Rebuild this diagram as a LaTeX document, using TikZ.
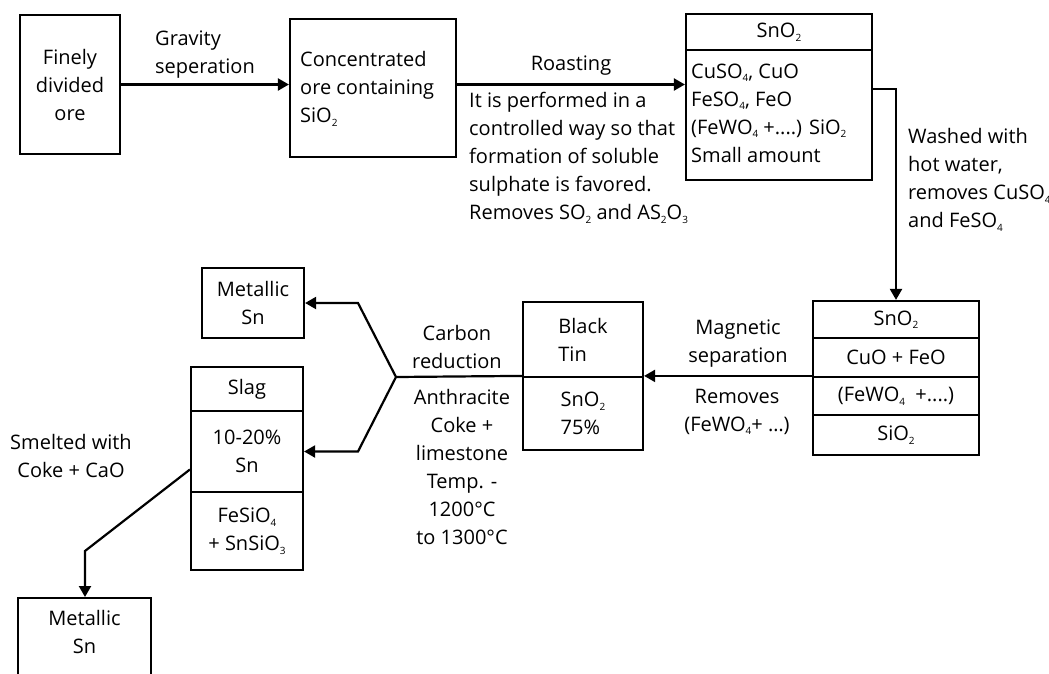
\documentclass[tikz,border=0pt]{standalone}
\usepackage{fontspec}
\setmainfont{Open Sans}
\usetikzlibrary{arrows.meta,calc}
\newcommand\chem[1]{\raisebox{-3.5pt}{\fontsize{10}{10}\selectfont#1}}

\begin{document}
\begin{tikzpicture}[x=1pt,y=-1pt,
    box/.style={draw,line width=2.2pt,inner sep=0pt},
    txt/.style={font=\fontsize{20}{28}\selectfont,align=center,inner sep=0pt},
    flow/.style={line width=2.2pt,-{Triangle[length=11pt,width=12pt]}},
    link/.style={line width=2.2pt}]

\useasboundingbox (0,0) rectangle (1049,673);

% Finely divided ore
\node[box,txt,minimum width=100,minimum height=139] (ore) at (70,84.5) {Finely\\divided\\ore};

% Concentrated ore
\node[box,minimum width=166,minimum height=138] (conc) at (373,88) {};
\node[txt,align=left,anchor=west] (conct) at (300,89) {Concentrated\\ore containing\\SiO\chem2};

% Roasted ore
\node[box,txt,minimum width=186,minimum height=36] (roast1) at (779,32) {SnO\chem2};
\node[box,minimum width=186,minimum height=130] (roast2) at (779,115) {};
\node[txt,align=left,anchor=west] (roastt) at (691,113) {CuSO\chem4, CuO\\FeSO\chem4, FeO\\(FeWO\chem4 +....) SiO\chem2\\Small amount};

% Washed ore
\node[box,txt,minimum width=166,minimum height=37] (wash1) at (896,319.5) {SnO\chem2};
\node[box,txt,minimum width=166,minimum height=39] (wash2) at (896,357.5) {CuO + FeO};
\node[box,txt,minimum width=166,minimum height=38] (wash3) at (896,396) {(FeWO\chem4~ +....)};
\node[box,txt,minimum width=166,minimum height=40] (wash4) at (896,435) {SiO\chem2};

% Black tin
\node[box,txt,align=left,minimum width=120,minimum height=75] (tin1) at (583,339.5) {Black\\Tin};
\node[box,txt,align=left,minimum width=120,minimum height=73] (tin2) at (583,413.5) {SnO\chem2\\75\%};

% Metallic Sn
\node[box,txt,minimum width=102,minimum height=70] (metal1) at (253,303) {Metallic\\Sn};

% Slag
\node[box,txt,minimum width=112,minimum height=44] (slag1) at (247,389) {Slag};
\node[box,txt,minimum width=112,minimum height=81] (slag2) at (247,451.5) {10-20\%\\Sn};
\node[box,txt,minimum width=112,minimum height=78] (slag3) at (247,531) {FeSiO\chem4\\+ SnSiO\chem3};

% Metallic Sn from slag
\node[box,minimum width=133,minimum height=80,anchor=north] (metal2) at (84.5,597) {};
\node[txt] (metal2t) at (84.5,632) {Metallic\\Sn};

% Labels
\node[txt,align=left,anchor=west] (grav) at (155,55) {Gravity\\seperation};
\node[txt] (roastl) at (571,66) {Roasting};
\node[txt,align=left,anchor=west] (roastn) at (469,158) {It is performed in a\\controlled way so that\\formation of soluble\\sulphate is favored.\\Removes SO\chem2 and AS\chem2O\chem3};
\node[txt,align=left,anchor=west] (washl) at (908,180) {Washed with\\hot water,\\removes CuSO\chem4\\and FeSO\chem4};
\node[txt] (magl) at (738,343.5) {Magnetic\\separation};
\node[txt] (magn) at (737,412) {Removes\\(FeWO\chem4+ …)};
\node[txt] (carbl) at (457,347) {Carbon\\reduction};
\node[txt] (carbn) at (462,467) {Anthracite\\Coke +\\limestone\\Temp. -\\1200°C\\to 1300°C};
\node[txt] (smelt) at (71,456) {Smelted with\\Coke + CaO};

% Connectors
\coordinate (fork) at (396,377);
\coordinate (up) at (358,303);
\coordinate (dn) at (358,451.5);
\coordinate (bend) at (85,551);

\draw[flow] (ore.east) -- (ore.east -| conc.west);
\draw[flow] (ore.east -| conc.east) -- (ore.east -| roast2.west);
\draw[flow] ($(roast2.north east)+(0,40)$) -| (wash1.north);
\draw[flow] (wash3.north west) -- (tin2.north east);
\draw[link] (tin2.north west) -- (fork);
\draw[flow] (fork) -- (up) -- (metal1.east);
\draw[flow] (fork) -- (dn) -- (slag2.east);
\draw[flow] ($(slag2.west)+(0,18)$) -- (bend) -- (bend |- metal2.north);

\end{tikzpicture}
\end{document}
